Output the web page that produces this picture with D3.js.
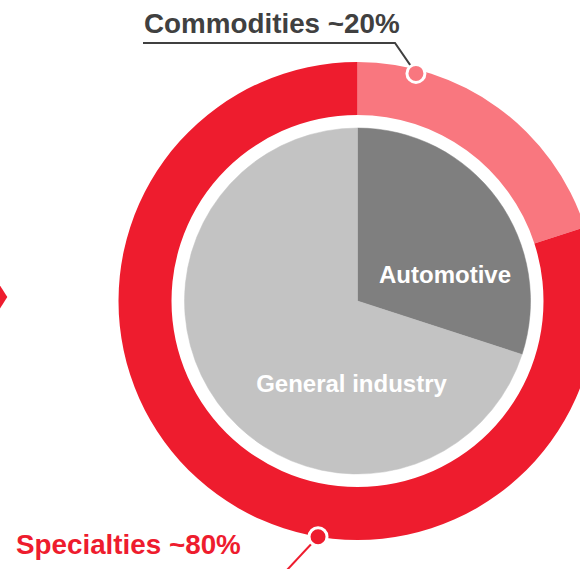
<!DOCTYPE html>
<html>
<head>
<meta charset="utf-8">
<script src="https://cdn.jsdelivr.net/npm/d3@7"></script>
<style>
html,body{margin:0;padding:0;background:#fff;}
svg{display:block;}
text{font-family:"Liberation Sans",Arial,Helvetica,sans-serif;font-weight:bold;}
</style>
</head>
<body>
<svg id="chart" width="580" height="569"></svg>
<script>
// Outer ring: product segments
const ringCategories = ["Commodities", "Specialties"];
const ringValues = [20, 80];
const ringLabels = ["Commodities ~20%", "Specialties ~80%"];
// Inner pie: end markets
const pieCategories = ["Automotive", "General industry"];
const pieValues = [30, 70];

const W = 580, H = 569;
const cx = 357.5, cy = 301;
const R_OUT = 239, R_IN = 186, R_PIE = 173;

const ringColors = d3.scaleOrdinal().domain(ringCategories).range(["#f9777f", "#ee1c2e"]);
const pieColors = d3.scaleOrdinal().domain(pieCategories).range(["#7f7f7f", "#c3c3c3"]);

const svg = d3.select("#chart");

// partial red marker at left edge
svg.append("path")
  .attr("d", "M-10,269.7 L7.3,297 L-10,324.3 Z")
  .attr("fill", "#ee1c2e");

const g = svg.append("g").attr("transform", `translate(${cx},${cy})`);

const pie = d3.pie().sort(null).value(d => d.v).startAngle(0).endAngle(2 * Math.PI);

const ringData = pie(ringCategories.map((c, i) => ({c, v: ringValues[i], label: ringLabels[i]})));
const pieData = pie(pieCategories.map((c, i) => ({c, v: pieValues[i]})));

const ringArc = d3.arc().innerRadius(R_IN).outerRadius(R_OUT);
const pieArc = d3.arc().innerRadius(0).outerRadius(R_PIE);

g.selectAll("path.ring").data(ringData).join("path")
  .attr("class", "ring")
  .attr("d", ringArc)
  .attr("fill", d => ringColors(d.data.c));

g.selectAll("path.pie").data(pieData).join("path")
  .attr("class", "pie")
  .attr("d", pieArc)
  .attr("fill", d => pieColors(d.data.c))
  .attr("stroke", d => pieColors(d.data.c))
  .attr("stroke-width", 0.5);

// inner labels
const pieLabelOffsets = [[87.5, -18], [-6, 91]];
g.selectAll("text.pielabel").data(pieData).join("text")
  .attr("class", "pielabel")
  .attr("x", (d, i) => pieLabelOffsets[i][0])
  .attr("y", (d, i) => pieLabelOffsets[i][1])
  .attr("text-anchor", "middle")
  .attr("fill", "#ffffff")
  .attr("font-size", 24)
  .text(d => d.data.c);

// marker dots on ring (position as fraction along each segment)
const polar = (angle, r) => [r * Math.sin(angle), -r * Math.cos(angle)];
const dotFrac = [0.2, 0.408];
const dotR = [235, 239];
const dots = ringData.map((d, i) => polar(d.startAngle + (d.endAngle - d.startAngle) * dotFrac[i], dotR[i]));

// leader lines
g.append("polyline")
  .attr("points", [[143 - cx, 43 - cy], [395 - cx, 43 - cy], dots[0]].map(p => p.join(",")).join(" "))
  .attr("fill", "none")
  .attr("stroke", "#404040")
  .attr("stroke-width", 2);

g.append("line")
  .attr("x1", dots[1][0]).attr("y1", dots[1][1])
  .attr("x2", 287 - cx).attr("y2", 570 - cy)
  .attr("stroke", "#ee1c2e")
  .attr("stroke-width", 2);

g.selectAll("circle.dot").data(ringData).join("circle")
  .attr("class", "dot")
  .attr("cx", (d, i) => dots[i][0])
  .attr("cy", (d, i) => dots[i][1])
  .attr("r", 9)
  .attr("fill", d => ringColors(d.data.c))
  .attr("stroke", "#ffffff")
  .attr("stroke-width", 3);

// outer labels
svg.append("text")
  .attr("x", 144).attr("y", 33)
  .attr("fill", "#404040")
  .attr("font-size", 27.8)
  .text(ringData[0].data.label);

svg.append("text")
  .attr("x", 16).attr("y", 554)
  .attr("fill", "#ee1c2e")
  .attr("font-size", 27.8)
  .text(ringData[1].data.label);
</script>
</body>
</html>
